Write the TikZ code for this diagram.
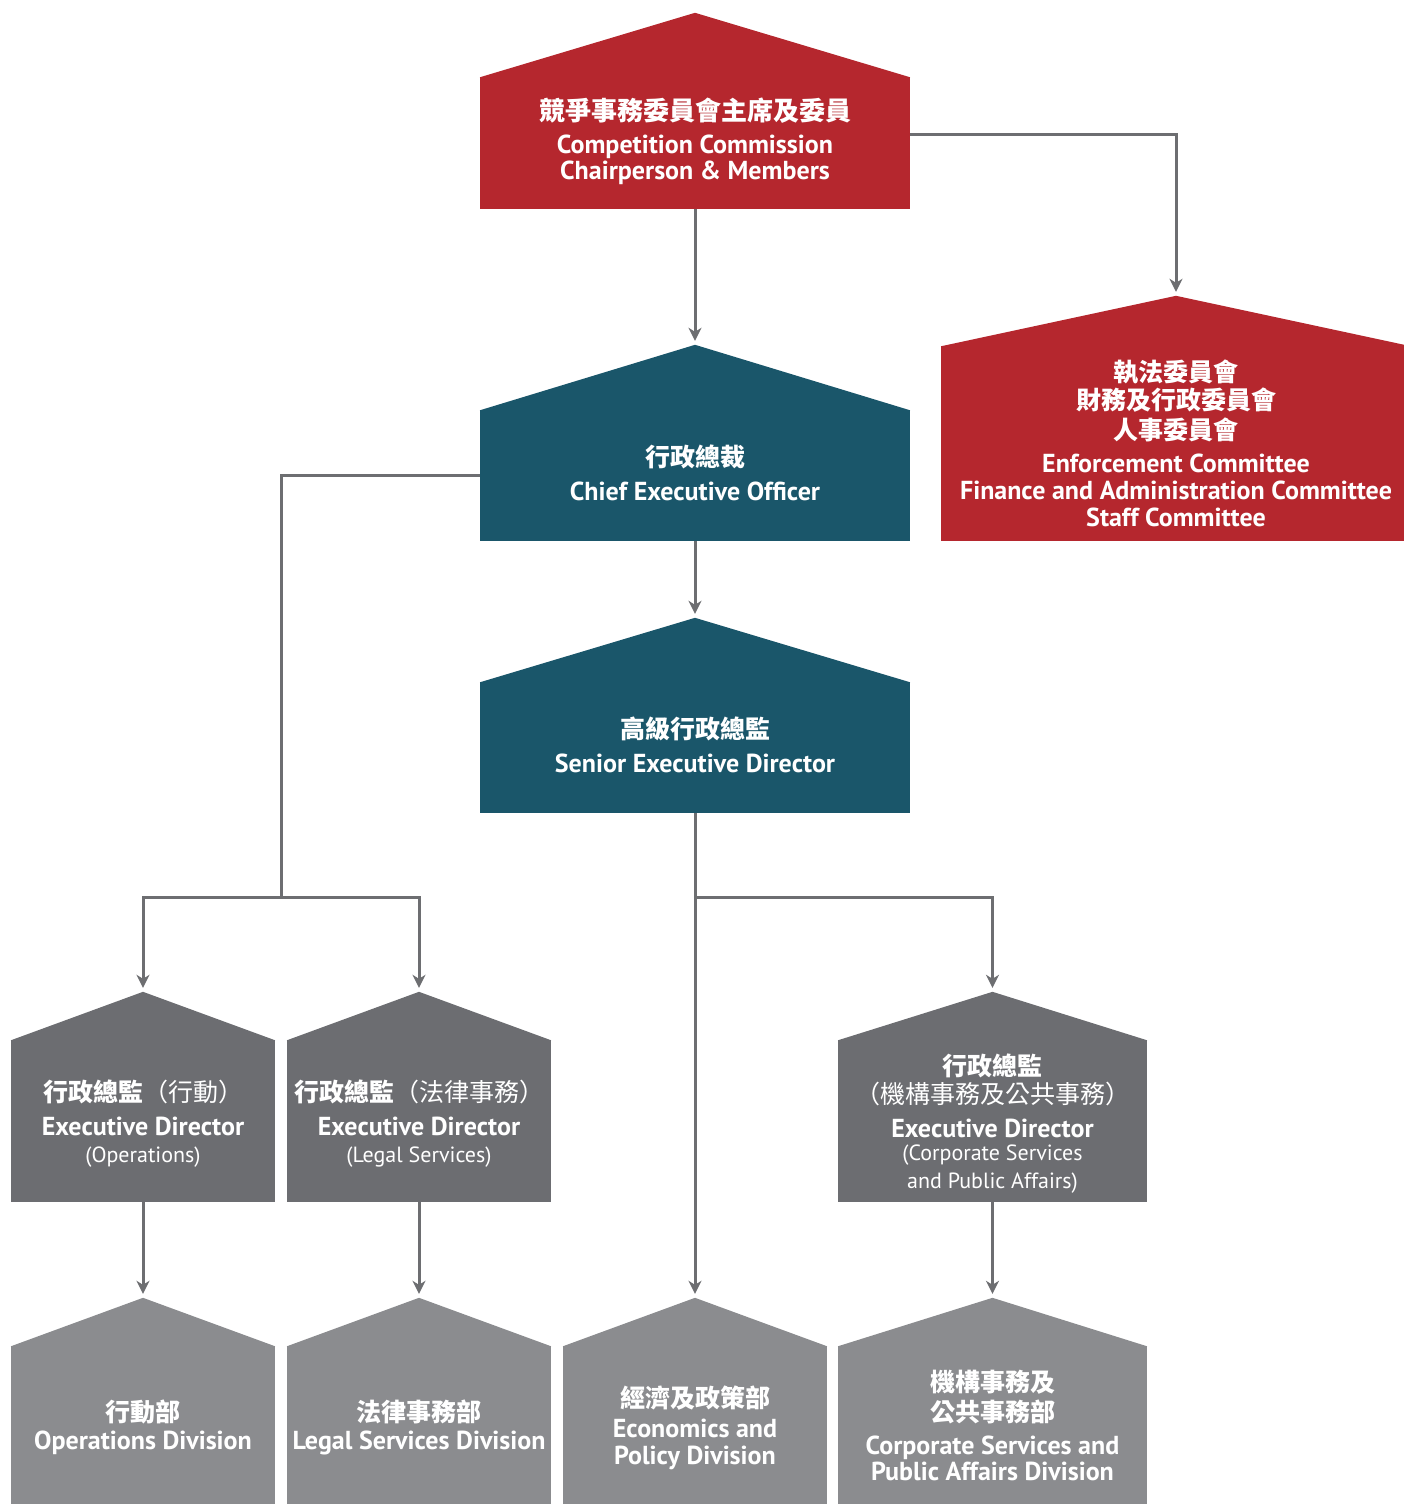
\documentclass[tikz,border=0pt]{standalone}
\usepackage{fontspec}
\setmainfont{PT Sans}
\newfontfamily\cjk{Noto Sans CJK TC}
\usetikzlibrary{arrows.meta,calc}
\definecolor{ccred}{HTML}{B5272E}
\definecolor{ccteal}{HTML}{1A566A}
\definecolor{ccdark}{HTML}{6C6D71}
\definecolor{cclight}{HTML}{8B8C8F}
\definecolor{cclink}{HTML}{6D6E71}
\tikzset{house/.style={inner sep=0pt,align=center,text=white,font=\bfseries\fontsize{26}{27}\selectfont},
topbox/.style={house,fill=ccred,minimum width=430pt,minimum height=132pt},
combox/.style={house,fill=ccred,minimum width=470pt,minimum height=195pt},
ceobox/.style={house,fill=ccteal,minimum width=430pt,minimum height=131pt},
edbox/.style={house,fill=ccdark,minimum width=264pt,minimum height=162pt},
divbox/.style={house,fill=cclight,minimum width=264pt,minimum height=158pt}}
\tikzstyle{link}  = [line width=3pt,draw=cclink]
\tikzstyle{arrow} = [link,-{Stealth[length=13pt,width=13pt,inset=4pt]},shorten >=4pt]
\newcommand{\zh}[1]{{\cjk\fontsize{25}{27}\selectfont #1}}
\newcommand{\zhr}[1]{{\cjk\mdseries #1}}
\newcommand{\paren}[1]{{\mdseries\fontsize{22}{25}\selectfont #1}}
\newcommand{\housenode}[6]{%
  \node[#2] (#1) at (#3) {#6};
  \fill[#4] ([yshift=-0.5pt]#1.north west) -- ([yshift=#5]#1.north) coordinate (#1-top)
    -- ([yshift=-0.5pt]#1.north east) -- cycle;}

\begin{document}
\begin{tikzpicture}[x=1pt,y=-1pt]
		\useasboundingbox (0,0) rectangle (1403,1504);

		\housenode{top}{topbox,text depth=9pt}{695,143}{ccred}{64pt}{%
			{\cjk\fontsize{26}{27}\selectfont 競爭事務委員會主席及委員}\\[6pt]
			Competition Commission\\[-1pt]Chairperson \& Members}
		\housenode{com}{combox,text depth=-4pt}{1176,443.5}{ccred}{50pt}{%
			\zh{執法委員會}\\[1pt]\zh{財務及行政委員會}\\[3pt]\zh{人事委員會}\\[6pt]
			Enforcement Committee\\Finance and Administration Committee\\Staff Committee}
		\housenode{ceo}{ceobox,text depth=5pt}{695,475.5}{ccteal}{65pt}{%
			\zh{行政總裁}\\[7pt]Chief Executive Officer}
		\housenode{sed}{ceobox,text depth=5pt}{695,747.5}{ccteal}{64pt}{%
			\zh{高級行政總監}\\[7pt]Senior Executive Director}

		\housenode{edops}{edbox,text depth=-1pt}{143,1121}{ccdark}{48pt}{%
			\zh{行政總監\zhr{（行動）}}\\[7pt]
			Executive Director\\[0pt]\paren{(Operations)}}
		\housenode{edlegal}{edbox,text depth=-1pt}{419,1121}{ccdark}{48pt}{%
			\zh{行政總監\zhr{（法律事務）}}\\[7pt]
			Executive Director\\[0pt]\paren{(Legal Services)}}
		\housenode{edcorp}{edbox,minimum width=309pt,text depth=0pt}{992.5,1121}{ccdark}{48pt}{%
			\zh{行政總監}\\[1pt]\zh{\zhr{（機構事務及公共事務）}}\\[7pt]
			Executive Director\\[-4pt]\paren{(Corporate Services}\\[1pt]\paren{and Public Affairs)}}

		\housenode{divops}{divbox,text depth=-4pt}{143,1425}{cclight}{48pt}{%
			\zh{行動部}\\[1pt]Operations Division}
		\housenode{divlegal}{divbox,text depth=-4pt}{419,1425}{cclight}{48pt}{%
			\zh{法律事務部}\\[1pt]Legal Services Division}
		\housenode{divecon}{divbox,text depth=-4pt}{695,1425}{cclight}{48pt}{%
			\zh{經濟及政策部}\\[3pt]Economics and\\Policy Division}
		\housenode{divcorp}{divbox,minimum width=309pt,text depth=-2pt}{992.5,1425}{cclight}{48pt}{%
			\zh{機構事務及}\\[3pt]\zh{公共事務部}\\[6pt]Corporate Services and\\[-1pt]Public Affairs Division}

		\coordinate (j1) at (281,897);
		\coordinate (j2) at (695,897);

		\draw[arrow] (top) -- (ceo-top);
		\draw[arrow] ([yshift=9pt]top.east) -| (com-top);
		\draw[arrow] (ceo) -- (sed-top);
		\draw[link] (ceo.west) -| (j1);
		\draw[arrow] (j1) -| (edops-top);
		\draw[arrow] (j1) -| (edlegal-top);
		\draw[arrow] (sed) -- (divecon-top);
		\draw[arrow] (j2) -| (edcorp-top);
		\draw[arrow] (edops) -- (divops-top);
		\draw[arrow] (edlegal) -- (divlegal-top);
		\draw[arrow] (edcorp) -- (divcorp-top);
	\end{tikzpicture}
\end{document}
